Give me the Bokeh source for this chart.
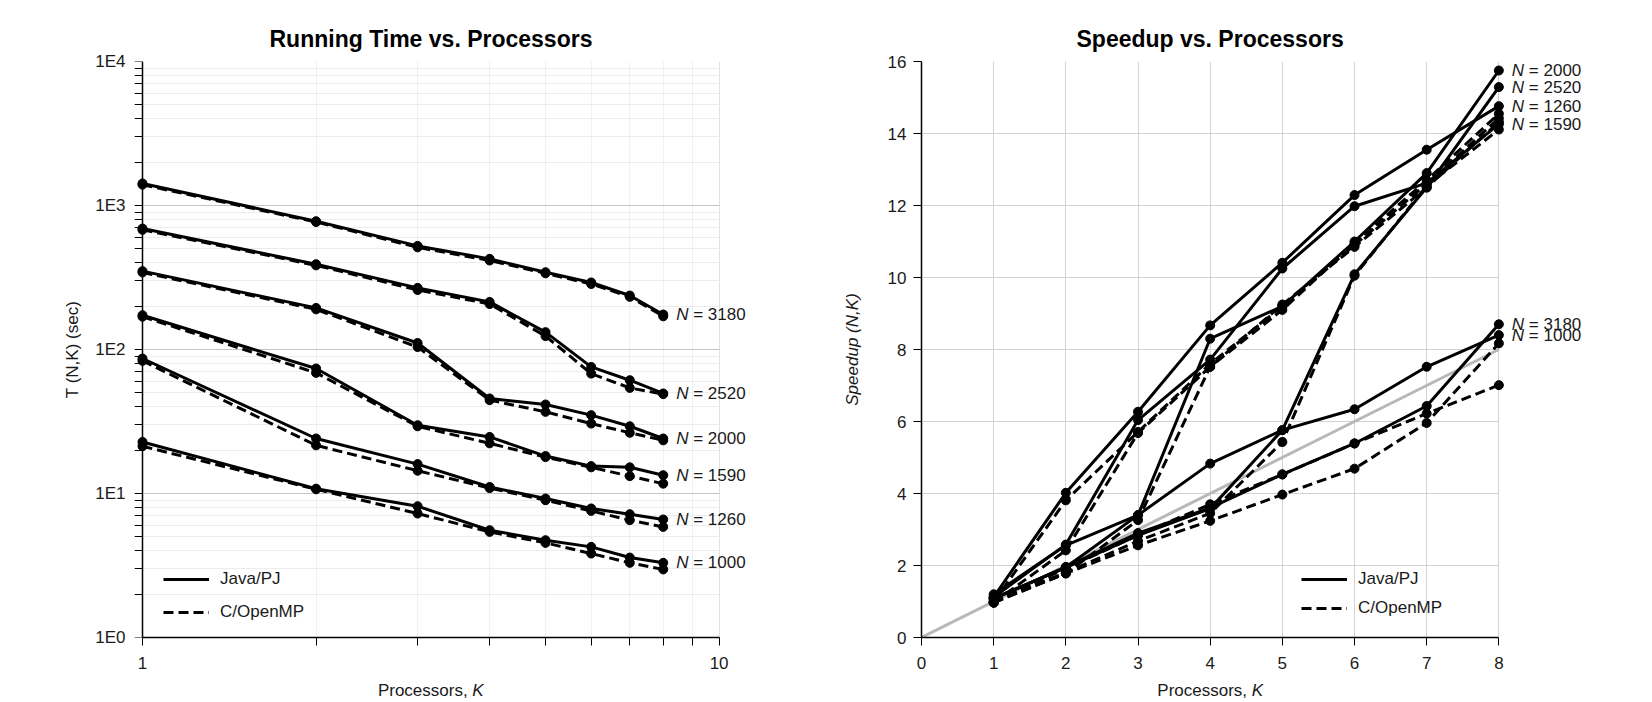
import math
from bokeh.plotting import figure
from bokeh.models import (FixedTicker, CustomJSTickFormatter, Label, Legend,
                          LegendItem, Range1d, LogAxis)
from bokeh.layouts import row
from bokeh.embed import file_html
from bokeh.resources import INLINE

# ---------------- data ----------------
K = [1, 2, 3, 4, 5, 6, 7, 8]
N_SIZES = [3180, 2520, 2000, 1590, 1260, 1000]

# Running time T(N,K) in seconds
T_JAVA_3180 = [1422, 778, 524, 426, 344, 292, 237, 175]
T_C_3180 = [1395, 768, 512, 415, 338, 285, 232, 170]
T_JAVA_2520 = [692, 391, 268, 214, 132, 75.7, 61.2, 49.5]
T_C_2520 = [678, 384, 259, 207, 124, 68, 54.1, 49]
T_JAVA_2000 = [350, 194.5, 111, 45.7, 41.5, 35, 29.3, 24.1]
T_C_2000 = [343, 190, 104, 44.5, 36.9, 30.6, 26.4, 23.4]
T_JAVA_1590 = [173, 73.8, 29.8, 24.7, 18.2, 15.5, 15.2, 13.4]
T_C_1590 = [169, 68.8, 29.3, 22.3, 17.9, 15.2, 13.2, 11.7]
T_JAVA_1260 = [86.6, 24.1, 16.0, 11.1, 9.23, 7.87, 7.18, 6.6]
T_C_1260 = [83.4, 21.6, 14.4, 10.9, 8.98, 7.57, 6.53, 5.86]
T_JAVA_1000 = [22.8, 10.8, 8.16, 5.56, 4.74, 4.26, 3.59, 3.30]
T_C_1000 = [21.3, 10.7, 7.26, 5.41, 4.54, 3.83, 3.30, 2.97]

# Speedup(N,K)
S_JAVA_2000 = [1.085, 1.95, 3.40, 8.30, 9.2, 11.0, 12.9, 15.75]
S_C_2000 = [0.97, 1.78, 3.26, 7.52, 9.1, 10.95, 12.7, 14.55]
S_JAVA_2520 = [1.09, 1.94, 2.84, 3.58, 5.76, 10.09, 12.5, 15.29]
S_C_2520 = [1.01, 1.8, 2.68, 3.45, 5.43, 10.05, 12.55, 14.11]
S_JAVA_1260 = [1.125, 4.02, 6.27, 8.67, 10.41, 12.29, 13.55, 14.76]
S_C_1260 = [0.99, 3.81, 5.71, 7.6, 9.2, 10.9, 12.6, 14.42]
S_JAVA_1590 = [1.12, 2.58, 6.04, 7.72, 10.25, 11.98, 12.62, 14.26]
S_C_1590 = [0.97, 2.42, 5.68, 7.52, 9.25, 10.85, 12.5, 14.32]
S_JAVA_3180 = [1.07, 1.96, 2.9, 3.6, 4.53, 5.39, 6.43, 8.70]
S_C_3180 = [0.97, 1.78, 2.56, 3.24, 3.97, 4.69, 5.96, 8.17]
S_JAVA_1000 = [1.2, 2.56, 3.40, 4.83, 5.76, 6.34, 7.52, 8.40]
S_C_1000 = [0.97, 1.92, 2.84, 3.7, 4.53, 5.39, 6.22, 7.01]

IDEAL_K = [0, 8]
IDEAL_S = [0, 8]

X_TICKS_LOG = [1, 10]
X_MINOR_LOG = [2, 3, 4, 5, 6, 7, 8, 9]
Y_TICKS_LOG = [1, 10, 100, 1000, 10000]
X_TICKS_LIN = [0, 1, 2, 3, 4, 5, 6, 7, 8]
Y_TICKS_LIN = [0, 2, 4, 6, 8, 10, 12, 14, 16]

TIME_SERIES = {
    3180: (T_JAVA_3180, T_C_3180), 2520: (T_JAVA_2520, T_C_2520),
    2000: (T_JAVA_2000, T_C_2000), 1590: (T_JAVA_1590, T_C_1590),
    1260: (T_JAVA_1260, T_C_1260), 1000: (T_JAVA_1000, T_C_1000),
}
SPEED_SERIES = {
    2000: (S_JAVA_2000, S_C_2000), 2520: (S_JAVA_2520, S_C_2520),
    1260: (S_JAVA_1260, S_C_1260), 1590: (S_JAVA_1590, S_C_1590),
    3180: (S_JAVA_3180, S_C_3180), 1000: (S_JAVA_1000, S_C_1000),
}

FONT = "Liberation Sans"
FS = "17px"
TXT = "#1a1a1a"
DASH = "10 5"


def style_axis(ax):
    ax.axis_line_color = "black"
    ax.axis_line_width = 1.5
    ax.major_tick_in = 0
    ax.major_tick_out = 8
    ax.minor_tick_in = 0
    ax.minor_tick_out = 8
    ax.major_tick_line_color = "black"
    ax.minor_tick_line_color = "black"
    ax.major_label_text_font = FONT
    ax.major_label_text_font_size = FS
    ax.major_label_text_color = TXT
    ax.axis_label_text_font = FONT
    ax.axis_label_text_font_size = FS
    ax.axis_label_text_color = TXT
    ax.axis_label_text_font_style = "normal"


def style_fig(p, title_offset):
    p.outline_line_color = None
    p.title.text_font = FONT
    p.title.text_font_size = "23px"
    p.title.text_font_style = "bold"
    p.title.text_color = "black"
    p.title.align = "left"
    p.title.offset = title_offset
    p.title.standoff = 20
    p.background_fill_color = "white"
    p.border_fill_color = "white"


def draw_series(p, series):
    java_r = c_r = None
    for n, (js, cs) in series.items():
        c_r = p.line(K, cs, line_color="black", line_width=3, line_dash=DASH)
        p.scatter(K, cs, size=9, color="black")
        java_r = p.line(K, js, line_color="black", line_width=3)
        p.scatter(K, js, size=9, color="black")
        p.add_layout(Label(x=K[-1], y=js[-1], x_offset=13, text="N",
                           text_font=FONT, text_font_size=FS, text_font_style="italic",
                           text_baseline="middle", text_color=TXT))
        p.add_layout(Label(x=K[-1], y=js[-1], x_offset=30, text="= %d" % n,
                           text_font=FONT, text_font_size=FS,
                           text_baseline="middle", text_color=TXT))
    return java_r, c_r


def add_legend(p, java_r, c_r, loc, spacing):
    leg = Legend(items=[LegendItem(label="Java/PJ", renderers=[java_r]),
                        LegendItem(label="C/OpenMP", renderers=[c_r])],
                 location=loc, padding=0, margin=0, border_line_alpha=0,
                 background_fill_alpha=0, glyph_width=46, glyph_height=20,
                 label_height=20, label_standoff=11, spacing=spacing,
                 label_text_font=FONT, label_text_font_size=FS,
                 label_text_color=TXT)
    p.add_layout(leg)


def x_title(p, x_main, x_k, y):
    # "Processors, K" with italic K; labels live in side panels so they are not clipped
    p.add_layout(Label(x=x_main, y=y, text="Processors, ", text_font=FONT,
                       text_font_size=FS, text_color=TXT, text_align="left",
                       text_baseline="alphabetic"), "below")
    p.add_layout(Label(x=x_k, y=y, text="K", text_font=FONT, text_font_size=FS,
                       text_font_style="italic", text_color=TXT, text_align="left",
                       text_baseline="alphabetic"), "right")


# text widths (px) of the x-axis title pieces at 17px
W_MAIN = 5.557 * 17
W_K = 0.667 * 17
BASELINE_BELOW = 690.0 - 637.3   # px below frame bottom

# ---------------- left: running time (log-log) ----------------
PX_DECADE = 576.6
LEFT_PAD = 8          # px between frame edge and x=1 so edge markers stay whole
FW1 = 632
x_lo = 10 ** (-LEFT_PAD / PX_DECADE)
x_hi = 10 ** ((FW1 - LEFT_PAD) / PX_DECADE)

p1 = figure(x_axis_type="log", y_axis_type="log",
            x_range=Range1d(x_lo, x_hi), y_range=Range1d(1, 10000),
            frame_width=FW1, frame_height=576,
            min_border_left=134, min_border_right=55,
            min_border_top=61, min_border_bottom=65,
            output_backend="svg", toolbar_location=None,
            title="Running Time vs. Processors")
style_fig(p1, 135)
xt1 = FixedTicker(ticks=X_TICKS_LOG, minor_ticks=X_MINOR_LOG)
yminor = [m * d for d in [1, 10, 100, 1000] for m in range(2, 10)]
yt1 = FixedTicker(ticks=Y_TICKS_LOG, minor_ticks=yminor)
p1.xaxis.ticker = xt1
p1.yaxis.ticker = yt1
p1.xgrid.ticker = xt1
p1.ygrid.ticker = yt1
p1.xaxis.formatter = CustomJSTickFormatter(code="return Math.round(tick).toString();")
p1.yaxis.formatter = CustomJSTickFormatter(code="return '1E' + Math.round(Math.log10(tick));")
p1.xaxis.bounds = (1, 10)
style_axis(p1.xaxis[0])
style_axis(p1.yaxis[0])
p1.xaxis.major_label_standoff = 11
# default y axis: labels only (at frame edge)
p1.yaxis.axis_line_color = None
p1.yaxis.major_tick_out = 0
p1.yaxis.minor_tick_out = 0
p1.yaxis.major_label_standoff = 9
p1.yaxis.axis_label = "T (N,K) (sec)"
p1.yaxis.axis_label_standoff = 10
# second y axis: line + ticks drawn exactly at x = 1
yline = LogAxis(ticker=yt1, fixed_location=1,
                formatter=CustomJSTickFormatter(code="return '';"))
style_axis(yline)
yline.major_label_standoff = 0
p1.add_layout(yline, "left")

p1.xgrid.grid_line_color = "#e2e2e2"
p1.xgrid.minor_grid_line_color = "#f0f0f0"
p1.ygrid.grid_line_color = "#c4c4c4"
p1.ygrid.minor_grid_line_color = "#ececec"
p1.ygrid.cross_bounds = (1, 10)

jr, cr = draw_series(p1, TIME_SERIES)
add_legend(p1, jr, cr, (29, 15), 13)

x1_start_px = 430.0 - (W_MAIN + W_K) / 2 - 141.7
x_title(p1, 10 ** (x1_start_px / PX_DECADE), 10 ** ((x1_start_px + W_MAIN) / PX_DECADE),
        10 ** (-BASELINE_BELOW / 144.0))

# ---------------- right: speedup ----------------
PX_UNIT = 72.17
FW2 = 684
p2 = figure(x_range=Range1d(0, FW2 / PX_UNIT), y_range=Range1d(0, 16),
            frame_width=FW2, frame_height=576,
            min_border_left=100, min_border_right=47,
            min_border_top=61, min_border_bottom=65,
            output_backend="svg", toolbar_location=None,
            title="Speedup vs. Processors")
style_fig(p2, 155)
xt2 = FixedTicker(ticks=X_TICKS_LIN)
yt2 = FixedTicker(ticks=Y_TICKS_LIN)
p2.xaxis.ticker = xt2
p2.yaxis.ticker = yt2
p2.xgrid.ticker = xt2
p2.ygrid.ticker = yt2
p2.xaxis.bounds = (0, 8)
style_axis(p2.xaxis[0])
style_axis(p2.yaxis[0])
p2.xaxis.major_label_standoff = 11
p2.yaxis.major_label_standoff = 7
p2.xgrid.grid_line_color = "#d2d2d2"
p2.ygrid.grid_line_color = "#d2d2d2"
p2.ygrid.cross_bounds = (0, 8)
p2.yaxis.axis_label = "Speedup (N,K)"
p2.yaxis.axis_label_text_font_style = "italic"
p2.yaxis.axis_label_standoff = 23

p2.line(IDEAL_K, IDEAL_S, line_color="#b8b8b8", line_width=3)
jr2, cr2 = draw_series(p2, SPEED_SERIES)
add_legend(p2, jr2, cr2, (380, 19), 9)

x2_start_px = 1210.0 - (W_MAIN + W_K) / 2 - 921.3
x_title(p2, x2_start_px / PX_UNIT, (x2_start_px + W_MAIN) / PX_UNIT,
        -BASELINE_BELOW / 36.0)

layout = row(p1, p2)
open("out.html", "w").write(file_html(layout, INLINE))
